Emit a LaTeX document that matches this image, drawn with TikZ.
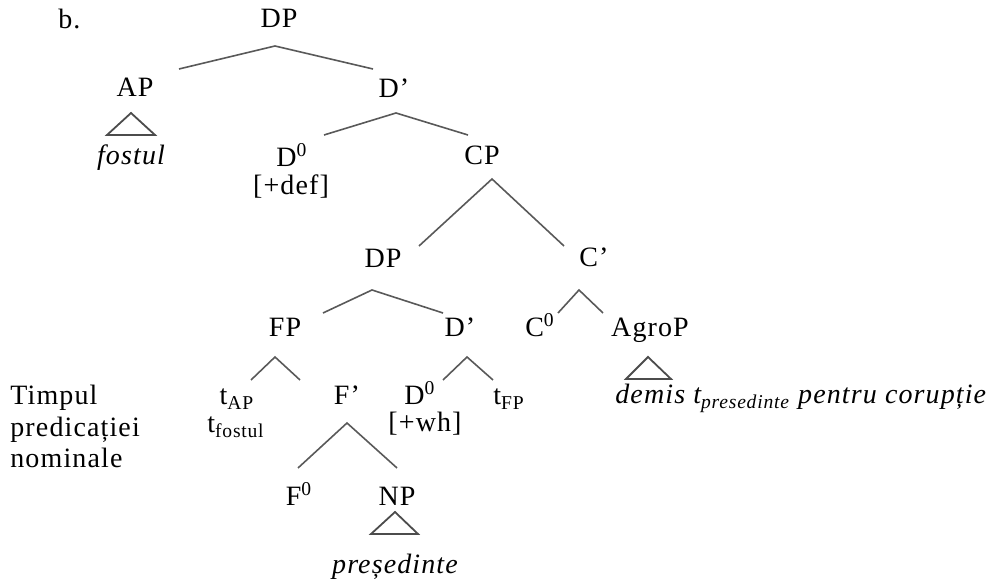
\documentclass[tikz,border=0pt]{standalone}
\usepackage{fontspec}
\setmainfont[LetterSpace=4]{Liberation Serif}
\usetikzlibrary{calc}

\begin{document}
\begin{tikzpicture}[
  x=0.5pt, y=-0.5pt,
  lbl/.style={inner sep=0pt, anchor=base, font=\fontsize{14}{15.75}\selectfont},
  gloss/.style={lbl, font=\fontsize{14}{15.75}\selectfont\itshape},
  br/.style={draw=black!65, line width=0.8pt},
  tri/.style={draw=black!70, line width=0.9pt}
]
  \useasboundingbox (0,0) rectangle (1002,581);

  % Upper tree
  \node[lbl, anchor=base west] (ex) at (58,29) {b.};
  \node[lbl] (dp0) at (279,28) {DP};
  \node[lbl] (ap) at (135,97) {AP};
  \node[lbl] (dbar1) at (394,98) {D’};
  \node[gloss] (fostul) at (131,165) {fostul};
  \node[lbl] (d0a) at (292,167) {D\textsuperscript{0}};
  \node[lbl] (def) at (291,195) {[+def]};
  \node[lbl] (cp) at (482,165) {CP};
  \draw[br] ($(ap.base)+(44,-28)$) -- ($(dp0.base)+(-4,18)$) -- ($(dbar1.base)+(-21,-29)$);
  \draw[br] ($(d0a.base)+(32,-32)$) -- ($(dbar1.base)+(2,15)$) -- ($(cp.base)+(-14,-30)$);
  \draw[tri] ($(ap.base)+(-4,16)$) -- ++(24,22) -- ++(-48,0) -- cycle;

  % Middle tree
  \node[lbl] (dp1) at (383,268) {DP};
  \node[lbl] (cbar) at (594,267) {C’};
  \node[lbl] (fp) at (285,337) {FP};
  \node[lbl] (dbar2) at (460,337) {D’};
  \node[lbl] (c0) at (540,337) {C\textsuperscript{0}};
  \node[lbl] (agrop) at (650,337) {AgroP};
  \node[gloss, anchor=base west] (demis) at (615,404)
    {demis t\textsubscript{presedinte} pentru corupție};
  \draw[br] ($(dp1.base)+(36,-22)$) -- ($(cp.base)+(10,14)$) -- ($(cbar.base)+(-30,-21)$);
  \draw[br] ($(fp.base)+(38,-24)$) -- ($(dp1.base)+(-11,22)$) -- ($(dbar2.base)+(-17,-24)$);
  \draw[br] ($(c0.base)+(18,-24)$) -- ($(cbar.base)+(-15,23)$) -- ($(agrop.base)+(-47,-24)$);
  \draw[tri] ($(agrop.base)+(-2,20)$) -- ++(23,22) -- ++(-45,0) -- cycle;

  % Lower tree
  \foreach \w [count=\i] in {Timpul, predicației, nominale}
    \node[lbl, anchor=base west] (tp\i) at (10,373.5+31.5*\i) {\w};
  \node[lbl] (tap) at (237,405) {t\textsubscript{AP}};
  \node[lbl] (tfostul) at (236,433) {t\textsubscript{fostul}};
  \node[lbl] (fbar) at (347,405) {F’};
  \node[lbl] (d0b) at (420,405) {D\textsuperscript{0}};
  \node[lbl] (wh) at (425,432) {[+wh]};
  \node[lbl] (tfp) at (509,405) {t\textsubscript{FP}};
  \node[lbl] (f0) at (299,506) {F\textsuperscript{0}};
  \node[lbl] (np) at (397,506) {NP};
  \node[gloss] (pres) at (395,574) {președinte};
  \draw[br] ($(tap.base)+(14,-25)$) -- ($(fp.base)+(-10,20)$) -- ($(fbar.base)+(-47,-25)$);
  \draw[br] ($(d0b.base)+(23,-25)$) -- ($(dbar2.base)+(7,20)$) -- ($(tfp.base)+(-16,-25)$);
  \draw[br] ($(f0.base)+(-1,-38)$) -- ($(fbar.base)+(0,18)$) -- ($(np.base)+(0,-38)$);
  \draw[tri] ($(np.base)+(-2,6)$) -- ++(23,22) -- ++(-47,0) -- cycle;
\end{tikzpicture}
\end{document}
